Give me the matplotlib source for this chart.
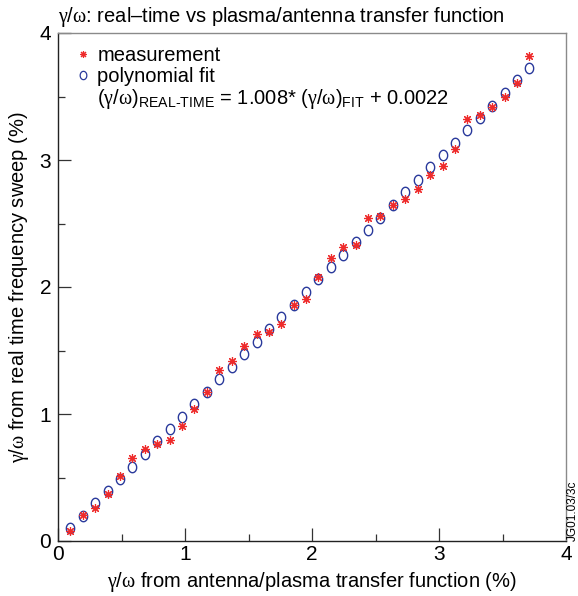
import matplotlib
matplotlib.use("Agg")
import matplotlib.pyplot as plt
import numpy as np
from matplotlib.path import Path
from matplotlib.lines import Line2D

# ---- data ----
x_vals = [0.094, 0.194, 0.291, 0.390, 0.486, 0.585, 0.683, 0.780, 0.879, 0.976,
          1.073, 1.170, 1.270, 1.367, 1.465, 1.565, 1.659, 1.756, 1.856, 1.953,
          2.045, 2.147, 2.244, 2.344, 2.441, 2.538, 2.638, 2.735, 2.832, 2.932,
          3.029, 3.124, 3.223, 3.320, 3.417, 3.517, 3.614, 3.711]
measured = [0.081, 0.202, 0.262, 0.370, 0.514, 0.654, 0.724, 0.764, 0.795, 0.906,
            1.037, 1.176, 1.346, 1.417, 1.535, 1.627, 1.648, 1.706, 1.858, 1.906,
            2.081, 2.231, 2.312, 2.331, 2.541, 2.562, 2.648, 2.693, 2.772, 2.879,
            2.950, 3.084, 3.320, 3.352, 3.415, 3.494, 3.604, 3.822]
fitted = [0.105, 0.197, 0.297, 0.396, 0.486, 0.585, 0.682, 0.785, 0.882, 0.979,
          1.079, 1.173, 1.273, 1.370, 1.470, 1.567, 1.669, 1.766, 1.861, 1.960,
          2.065, 2.157, 2.254, 2.354, 2.451, 2.546, 2.646, 2.746, 2.843, 2.943,
          3.037, 3.136, 3.236, 3.331, 3.428, 3.530, 3.630, 3.727]
x_ticks = [0, 1, 2, 3, 4]
y_ticks = [0, 1, 2, 3, 4]

plt.rcParams['font.family'] = ['Liberation Sans', 'DejaVu Sans']
plt.rcParams['mathtext.fontset'] = 'custom'
plt.rcParams['mathtext.rm'] = 'Liberation Sans'
plt.rcParams['mathtext.it'] = 'Liberation Serif'
plt.rcParams['mathtext.default'] = 'it'

RED = '#ee2b2b'
BLUE = '#2a3a9c'
FS = 14.5

fig = plt.figure(figsize=(5.78, 5.96), dpi=100)
ax = fig.add_axes([58/578, 1-541/596, 508/578, 508/596])

# ellipse marker (slightly taller than wide)
t = np.linspace(0, 2*np.pi, 60)
ell = Path(np.column_stack([0.8*np.cos(t), np.sin(t)]))

ax.plot(x_vals, fitted, linestyle='none', marker=ell, markersize=7.5,
        markerfacecolor='none', markeredgecolor=BLUE, markeredgewidth=1.0)
ax.plot(x_vals, measured, linestyle='none', marker=(8, 2, 0), markersize=6.3,
        markeredgecolor=RED, markeredgewidth=0.85)

ax.set_xlim(0, 4)
ax.set_ylim(0, 4)
ax.set_xticks(x_ticks)
ax.set_yticks(y_ticks)
ax.set_xticks(np.arange(0.5, 4, 1.0), minor=True)
ax.set_yticks(np.arange(0.5, 4, 1.0), minor=True)
ax.tick_params(which='both', direction='in', top=False, right=False,
               labelsize=15, color='#333333')
ax.tick_params(which='major', length=9.5, width=0.9, pad=3)
ax.tick_params(which='minor', length=5, width=0.9)
ax.tick_params(axis='y', pad=5)

for s in ['left', 'bottom']:
    ax.spines[s].set_color('#222222')
    ax.spines[s].set_linewidth(1.0)
for s in ['top', 'right']:
    ax.spines[s].set_color('#8a8a8a')
    ax.spines[s].set_linewidth(1.0)

ax.set_xlabel(r'$γ/ω\text{ from antenna/plasma transfer function (%)}$',
              fontsize=FS, labelpad=4)
ax.set_ylabel(r'$γ/ω\text{ from real time frequency sweep (%)}$',
              fontsize=FS, labelpad=6)
ax.set_title(r'$γ/ω\text{: real–time vs plasma/antenna transfer function}$',
             fontsize=FS, loc='left', pad=8)

# legend
h1 = Line2D([], [], linestyle='none', marker=(8, 2, 0), markersize=5,
            markeredgecolor=RED, markeredgewidth=0.8)
h2 = Line2D([], [], linestyle='none', marker=ell, markersize=6,
            markerfacecolor='none', markeredgecolor=BLUE, markeredgewidth=0.9)
leg = ax.legend([h1, h2], ['measurement', 'polynomial fit'], loc='upper left',
                bbox_to_anchor=(0.01, 1.003), frameon=False, fontsize=FS,
                handlelength=0.6, handletextpad=0.4, labelspacing=0.12,
                borderaxespad=0.3)

ax.text((97-58)/508, 1 - (99-33)/508,
        r'$(γ/ω)_{\text{REAL-TIME}}\text{ = 1.008* }'
        r'(γ/ω)_{\text{FIT}}\text{ + 0.0022}$',
        transform=ax.transAxes, fontsize=FS, va='center', ha='left')

fig.text(573/578, (596-541)/596, 'JG01.03/3c', rotation=90,
         fontsize=8.5, ha='center', va='bottom')

fig.savefig('out.png', dpi=100)
